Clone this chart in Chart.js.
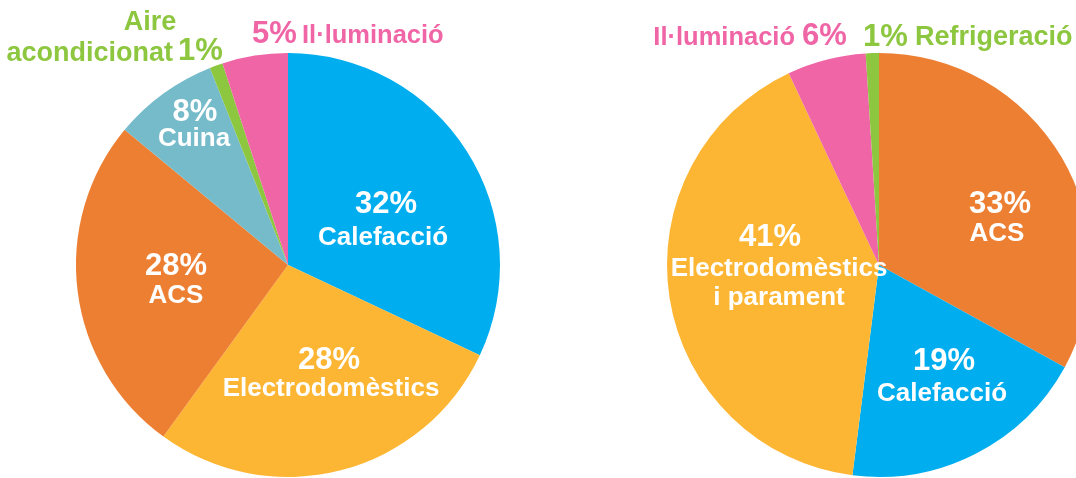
<!DOCTYPE html>
<html>
<head>
<meta charset="utf-8">
<script src="https://cdn.jsdelivr.net/npm/chart.js@4/dist/chart.umd.min.js"></script>
<style>
  html, body { margin: 0; padding: 0; background: #fff; overflow: hidden; width: 1076px; height: 478px; }
  .pie { position: absolute; top: 0; height: 478px; }
  #left-box { left: 0; width: 540px; }
  #right-box { left: 600px; width: 560px; }
</style>
</head>
<body>
<div class="pie" id="left-box"><canvas id="left-chart"></canvas></div>
<div class="pie" id="right-box"><canvas id="right-chart"></canvas></div>
<script>
"use strict";
// left pie
const leftCategories = ['Calefacció', 'Electrodomèstics', 'ACS', 'Cuina', 'Aire acondicionat', 'Il·luminació'];
const leftValues = [32, 28, 26, 8, 1, 5];
const leftPercents = ['32%', '28%', '28%', '8%', '1%', '5%'];
// right pie
const rightCategories = ['ACS', 'Calefacció', 'Electrodomèstics i parament', 'Il·luminació', 'Refrigeració'];
const rightValues = [33, 19, 41, 6, 1];
const rightPercents = ['33%', '19%', '41%', '6%', '1%'];

const BLUE = '#00aeef', YELLOW = '#fdb633', ORANGE = '#ed7f33', TEAL = '#76bbca', GREEN = '#8dc63f', PINK = '#f065a6';
const FONT = '"Liberation Sans", Arial, sans-serif';
const PCT = 'bold 31px ' + FONT;
const WORD = 'bold 26px ' + FONT;
const OUT = 'bold 27px ' + FONT;
const OUT_S = 'bold 25.5px ' + FONT;

// label layout, offsets from pie centre: [text, dx, dy, font, colour, align, baseline]
function leftLabels() {
    return [
        [leftPercents[0], 98, -61, PCT, '#fff', 'center', 'middle'],
        [leftCategories[0], 95, -27, WORD, '#fff', 'center', 'middle'],
        [leftPercents[1], 41, 95, PCT, '#fff', 'center', 'middle'],
        [leftCategories[1], 43, 124, WORD, '#fff', 'center', 'middle'],
        [leftPercents[2], -112, 1, PCT, '#fff', 'center', 'middle'],
        [leftCategories[2], -112, 31, WORD, '#fff', 'center', 'middle'],
        [leftPercents[3], -93, -153, PCT, '#fff', 'center', 'middle'],
        [leftCategories[3], -94, -126, WORD, '#fff', 'center', 'middle'],
        [leftCategories[4].split(' ')[0], -138, -235, OUT, GREEN, 'center', 'alphabetic'],
        [leftCategories[4].split(' ')[1], -115, -204, OUT, GREEN, 'right', 'alphabetic'],
        [leftPercents[4], -110, -205, PCT, GREEN, 'left', 'alphabetic'],
        [leftPercents[5], -36, -222, PCT, PINK, 'left', 'alphabetic'],
        [leftCategories[5], 14, -222, OUT_S, PINK, 'left', 'alphabetic']
    ];
}
function rightLabels() {
    return [
        [rightPercents[0], 121, -61, PCT, '#fff', 'center', 'middle'],
        [rightCategories[0], 118, -31, WORD, '#fff', 'center', 'middle'],
        [rightPercents[1], 65, 96, PCT, '#fff', 'center', 'middle'],
        [rightCategories[1], 63, 129, WORD, '#fff', 'center', 'middle'],
        [rightPercents[2], -109, -28, PCT, '#fff', 'center', 'middle'],
        [rightCategories[2].split(' i ')[0], -100, 4, WORD, '#fff', 'center', 'middle'],
        ['i ' + rightCategories[2].split(' i ')[1], -100, 33, WORD, '#fff', 'center', 'middle'],
        [rightCategories[3], -84, -220, OUT_S, PINK, 'right', 'alphabetic'],
        [rightPercents[3], -77, -220, PCT, PINK, 'left', 'alphabetic'],
        [rightPercents[4], -16, -219, PCT, GREEN, 'left', 'alphabetic'],
        [rightCategories[4], 36, -220, OUT, GREEN, 'left', 'alphabetic']
    ];
}

const pieLabels = {
    id: 'pieLabels',
    afterDraw(chart, args, opts) {
        const arc = chart.getDatasetMeta(0).data[0];
        const ctx = chart.ctx;
        ctx.save();
        opts.items().forEach(l => {
            ctx.font = l[3];
            ctx.fillStyle = l[4];
            ctx.textAlign = l[5];
            ctx.textBaseline = l[6];
            ctx.fillText(l[0], arc.x + l[1], arc.y + l[2]);
        });
        ctx.restore();
    }
};

function create_pie(ctx, labels, values, colors, padding, items) {
    new Chart(ctx, {
        type: 'pie',
        data: {
            labels: labels,
            datasets: [{
                data: values,
                backgroundColor: colors,
                borderWidth: 0,
                hoverOffset: 0
            }]
        },
        options: {
            responsive: true,
            maintainAspectRatio: false,
            animation: false,
            layout: { padding: padding },
            events: [],
            plugins: {
                legend: { display: false },
                tooltip: { enabled: false },
                title: { display: false },
                pieLabels: { items: items }
            }
        },
        plugins: [pieLabels]
    });
}

create_pie(document.getElementById('left-chart'), leftCategories, leftValues,
    [BLUE, YELLOW, ORANGE, TEAL, GREEN, PINK],
    { left: 76, right: 40, top: 53, bottom: 1 }, leftLabels);
create_pie(document.getElementById('right-chart'), rightCategories, rightValues,
    [ORANGE, BLUE, YELLOW, PINK, GREEN],
    { left: 67, right: 69, top: 53, bottom: 1 }, rightLabels);
</script>
</body>
</html>
